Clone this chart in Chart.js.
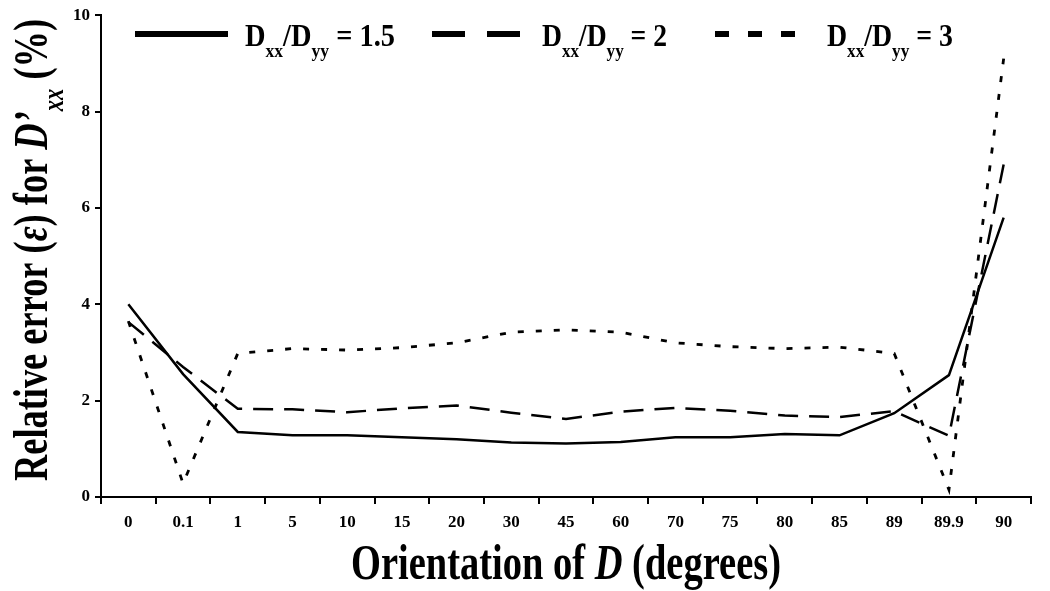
<!DOCTYPE html>
<html>
<head>
<meta charset="utf-8">
<script src="https://cdn.jsdelivr.net/npm/chart.js@4/dist/chart.umd.min.js"></script>
<style>
  body { margin: 0; background: #fff; }
  #wrap { width: 1050px; height: 591px; position: relative; }
</style>
</head>
<body>
<div id="wrap"><canvas id="errChart"></canvas></div>
<script>
// orientation of D (degrees), one category each
const orientations = ['0', '0.1', '1', '5', '10', '15', '20', '30', '45', '60', '70', '75', '80', '85', '89', '89.9', '90'];

// relative error (%)
const ratio15 = [4.0, 2.55, 1.35, 1.28, 1.28, 1.24, 1.2, 1.13, 1.11, 1.14, 1.24, 1.24, 1.31, 1.28, 1.74, 2.53, 5.8];
const ratio2 = [3.63, 2.7, 1.83, 1.82, 1.76, 1.84, 1.9, 1.75, 1.62, 1.77, 1.85, 1.79, 1.69, 1.66, 1.78, 1.27, 6.9];
const ratio3 = [3.65, 0.28, 2.98, 3.08, 3.05, 3.1, 3.2, 3.42, 3.47, 3.42, 3.2, 3.12, 3.08, 3.11, 2.98, 0.15, 9.1];

const yTicks = [0, 2, 4, 6, 8, 10];

const FAMILY = '"Liberation Serif", "Times New Roman", serif';

// draws a row of text pieces (some italic / subscript), squeezed to a given width
const drawRich = (ctx, runs, x, baseline, size, targetW, angle, align) => {
  const fontOf = r => (r.italic ? 'italic ' : '') + 'bold ' + (r.sub ? size * 0.62 : size) + 'px ' + FAMILY;
  let total = 0;
  const widths = runs.map(r => {
    ctx.font = fontOf(r);
    const w = ctx.measureText(r.t).width;
    total += w;
    return w;
  });
  const s = targetW / total;
  ctx.save();
  ctx.translate(x, baseline);
  ctx.rotate(angle);
  ctx.scale(s, 1);
  ctx.fillStyle = '#000';
  ctx.textBaseline = 'alphabetic';
  ctx.textAlign = 'left';
  let cx = align === 'left' ? 0 : -total / 2;
  runs.forEach((r, i) => {
    ctx.font = fontOf(r);
    ctx.fillText(r.t, cx, r.sub ? size * 0.34 : 0);
    cx += widths[i];
  });
  ctx.restore();
};

const legendItems = [
  { dash: [], x0: 135, x1: 228, tx: 245, tw: 150, val: '1.5' },
  { dash: [33, 22], x0: 432, x1: 520, tx: 542, tw: 125, val: '2' },
  { dash: [14, 19], x0: 715, x1: 795, tx: 827, tw: 126, val: '3' }
];

const titlesPlugin = {
  id: 'titles',
  afterDraw(chart) {
    const ctx = chart.ctx;
    const area = chart.chartArea;

    // x axis title
    drawRich(ctx, [
      { t: 'Orientation of ' },
      { t: 'D', italic: true },
      { t: ' (degrees)' }
    ], (area.left + area.right) / 2, 579, 50, 430, 0);

    // y axis title
    drawRich(ctx, [
      { t: 'Relative error (' },
      { t: '\u03b5', italic: true },
      { t: ') for ' },
      { t: 'D\u2019', italic: true },
      { t: 'xx', italic: true, sub: true },
      { t: ' (%)' }
    ], 47, 250, 48, 462, -Math.PI / 2);

    // legend
    legendItems.forEach(item => {
      ctx.save();
      ctx.strokeStyle = '#000';
      ctx.lineWidth = 6;
      ctx.setLineDash(item.dash);
      ctx.beginPath();
      ctx.moveTo(item.x0, 34);
      ctx.lineTo(item.x1, 34);
      ctx.stroke();
      ctx.restore();
      drawRich(ctx, [
        { t: 'D' },
        { t: 'xx', sub: true },
        { t: '/D' },
        { t: 'yy', sub: true },
        { t: ' = ' + item.val }
      ], item.tx, 46, 32, item.tw, 0, 'left');
    });
  }
};

const tickFont = { family: FAMILY, size: 17, weight: 'bold' };

new Chart(document.getElementById('errChart'), {
  type: 'line',
  data: {
    labels: orientations,
    datasets: [
      { label: 'Dxx/Dyy = 1.5', data: ratio15, borderColor: '#000', borderWidth: 2.5, borderDash: [] },
      { label: 'Dxx/Dyy = 2', data: ratio2, borderColor: '#000', borderWidth: 2.5, borderDash: [20, 11] },
      { label: 'Dxx/Dyy = 3', data: ratio3, borderColor: '#000', borderWidth: 2.8, borderDash: [6, 12] }
    ]
  },
  options: {
    responsive: true,
    maintainAspectRatio: false,
    animation: false,
    layout: { padding: { left: 0, top: 15, right: 19, bottom: 0 } },
    elements: {
      point: { radius: 0, hoverRadius: 0 },
      line: { tension: 0, fill: false }
    },
    plugins: {
      legend: { display: false },
      tooltip: { enabled: false }
    },
    scales: {
      x: {
        offset: true,
        afterFit: s => { s.height = 94; },
        grid: { offset: true, drawOnChartArea: false, tickLength: 7, color: '#000', lineWidth: 2 },
        border: { color: '#000', width: 2 },
        ticks: { font: tickFont, color: '#000', padding: 8, maxRotation: 0, autoSkip: false }
      },
      y: {
        min: 0,
        max: 10,
        afterFit: s => { s.width = 101; },
        afterBuildTicks: s => { s.ticks = yTicks.map(v => ({ value: v })); },
        grid: { drawOnChartArea: false, tickLength: 6, color: '#000', lineWidth: 2 },
        border: { color: '#000', width: 2 },
        ticks: { font: tickFont, color: '#000', padding: 5 }
      }
    }
  },
  plugins: [titlesPlugin]
});
</script>
</body>
</html>
